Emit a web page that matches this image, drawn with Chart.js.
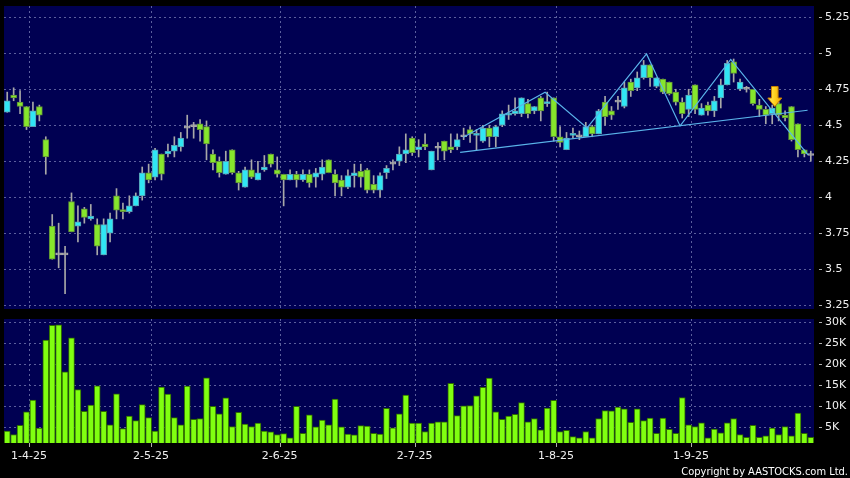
<!DOCTYPE html>
<html>
<head>
<meta charset="utf-8">
<script src="https://cdn.jsdelivr.net/npm/chart.js@4.4.1/dist/chart.umd.min.js"></script>
<style>
  html, body { margin: 0; padding: 0; background: #000; }
  #wrap { position: relative; width: 850px; height: 478px; background: #000; overflow: hidden; }
  #price { position: absolute; left: 0; top: 0; }
  #volume { position: absolute; left: 0; top: 312px; }
  #copy { position: absolute; right: 2px; top: 465px; color: #fff; font: 11px "DejaVu Sans Condensed", "Liberation Sans", sans-serif; }
</style>
</head>
<body>
<div id="wrap">
  <canvas id="price" width="850" height="312"></canvas>
  <canvas id="volume" width="850" height="166"></canvas>
  <div id="copy">Copyright by AASTOCKS.com Ltd.</div>
</div>
<script>
// daily candles
const opens = [4.59,4.71,4.66,4.63,4.49,4.63,4.40,3.80,3.60,3.60, 3.97,3.80,3.92,3.85,3.81,3.60,3.75,4.01,3.91,3.90,
  3.94,4.01,4.17,4.14,4.30,4.30,4.32,4.35,4.48,4.49, 4.51,4.49,4.30,4.25,4.16,4.33,4.17,4.07,4.19,4.12,
  4.19,4.30,4.19,4.16,4.12,4.16,4.12,4.16,4.14,4.16, 4.26,4.16,4.12,4.07,4.15,4.18,4.19,4.09,4.05,4.17,
  4.23,4.25,4.30,4.41,4.33,4.37,4.19,4.34,4.39,4.35, 4.35,4.42,4.47,4.43,4.39,4.48,4.42,4.50,4.57,4.58,
  4.58,4.65,4.60,4.69,4.65,4.69,4.42,4.33,4.43,4.42, 4.42,4.49,4.44,4.66,4.60,4.66,4.63,4.80,4.76,4.83,
  4.92,4.77,4.82,4.80,4.73,4.66,4.61,4.78,4.57,4.64, 4.60,4.69,4.78,4.94,4.75,4.75,4.75,4.64,4.61,4.58,
  4.65,4.57,4.63,4.51,4.33,4.29];
const highs = [4.73,4.76,4.74,4.63,4.66,4.64,4.42,3.88,3.82,3.66, 4.03,3.94,3.93,3.95,3.85,3.85,3.89,4.06,3.96,4.01,
  4.03,4.21,4.23,4.34,4.30,4.37,4.42,4.45,4.57,4.52, 4.54,4.53,4.33,4.28,4.32,4.33,4.18,4.21,4.26,4.25,
  4.29,4.30,4.28,4.16,4.19,4.18,4.19,4.19,4.20,4.26, 4.26,4.19,4.15,4.19,4.23,4.23,4.20,4.15,4.17,4.22,
  4.26,4.35,4.44,4.42,4.40,4.44,4.32,4.38,4.39,4.44, 4.44,4.48,4.49,4.47,4.50,4.50,4.50,4.60,4.64,4.69,
  4.69,4.68,4.63,4.70,4.73,4.69,4.49,4.45,4.48,4.46, 4.52,4.50,4.61,4.70,4.63,4.70,4.80,4.82,4.87,4.95,
  4.92,4.83,4.82,4.80,4.75,4.69,4.75,4.78,4.65,4.66, 4.70,4.82,4.95,4.96,4.82,4.77,4.75,4.68,4.63,4.64,
  4.66,4.60,4.63,4.51,4.33,4.32];
const lows = [4.59,4.67,4.58,4.47,4.49,4.53,4.16,3.57,3.51,3.33, 3.76,3.69,3.82,3.84,3.60,3.60,3.69,3.85,3.85,3.89,
  3.94,3.98,4.10,4.12,4.12,4.28,4.28,4.32,4.41,4.41, 4.39,4.26,4.19,4.14,4.16,4.16,4.05,4.07,4.13,4.12,
  4.18,4.21,4.14,3.94,4.12,4.07,4.11,4.07,4.07,4.12, 4.17,4.01,4.01,4.06,4.07,4.07,4.03,4.03,4.00,4.13,
  4.19,4.22,4.24,4.29,4.28,4.33,4.19,4.26,4.26,4.31, 4.33,4.40,4.38,4.33,4.38,4.35,4.35,4.49,4.54,4.57,
  4.56,4.55,4.58,4.53,4.63,4.39,4.35,4.33,4.41,4.40, 4.42,4.42,4.44,4.50,4.54,4.61,4.62,4.70,4.74,4.82,
  4.77,4.76,4.72,4.71,4.64,4.55,4.56,4.58,4.57,4.57, 4.56,4.62,4.78,4.80,4.74,4.73,4.64,4.56,4.51,4.51,
  4.53,4.53,4.39,4.28,4.28,4.25];
const closes = [4.67,4.69,4.63,4.49,4.60,4.57,4.28,3.57,3.60,3.60, 3.76,3.83,3.86,3.87,3.66,3.81,3.85,3.91,3.90,3.94,
  4.01,4.17,4.12,4.33,4.16,4.32,4.36,4.41,4.48,4.49, 4.47,4.37,4.24,4.17,4.25,4.17,4.10,4.19,4.14,4.17,
  4.21,4.23,4.16,4.12,4.16,4.12,4.16,4.10,4.17,4.21, 4.17,4.10,4.07,4.15,4.17,4.14,4.05,4.05,4.15,4.20,
  4.23,4.30,4.33,4.31,4.35,4.35,4.32,4.34,4.32,4.33, 4.40,4.42,4.44,4.44,4.48,4.42,4.49,4.58,4.58,4.60,
  4.69,4.58,4.63,4.60,4.66,4.42,4.38,4.41,4.44,4.42, 4.49,4.44,4.60,4.56,4.57,4.66,4.76,4.74,4.83,4.92,
  4.83,4.83,4.73,4.72,4.66,4.58,4.71,4.61,4.62,4.60, 4.67,4.78,4.93,4.86,4.80,4.75,4.65,4.61,4.57,4.62,
  4.57,4.55,4.40,4.33,4.30,4.29];
// volume in thousands of shares
const volumes = [4.1,3.3,5.5,8.7,11.5,4.8,25.8,29.3,29.4,18.2, 26.3,14.0,8.8,10.3,14.9,8.8,5.6,13.0,4.7,7.7,
  6.6,10.4,7.3,4.1,14.6,12.9,7.3,5.6,14.8,6.9, 7.1,16.8,10.0,8.2,12.0,5.2,8.6,5.8,5.2,6.0,
  4.1,3.9,3.3,3.5,2.5,10.0,3.6,8.0,5.1,6.7, 5.6,11.7,5.1,3.4,3.2,5.4,5.3,3.6,3.4,9.5,
  4.9,8.2,12.7,6.0,6.0,4.0,6.0,6.3,6.3,15.5, 7.8,10.1,10.2,12.5,14.5,16.7,8.7,6.9,7.7,8.1,
  10.9,6.3,7.1,4.4,9.6,11.4,4.0,4.3,2.8,2.5, 4.0,2.5,7.1,9.0,8.9,9.8,9.4,6.2,9.4,6.6,
  7.2,3.6,7.2,4.5,3.6,12.1,5.6,5.2,6.1,2.5, 4.6,3.7,6.1,7.1,3.3,2.6,5.5,2.6,3.0,4.8,
  3.3,5.2,3.0,8.4,3.6,2.6];

// month ticks: bar index of the first trading day and its label
const tickIndex = [4, 23, 43, 64, 86, 107];
const tickText = ["1-4-25", "2-5-25", "2-6-25", "2-7-25", "1-8-25", "1-9-25"];

// drawn pattern lines (bar index, price)
const zigzagX = [70.96, 83.67, 90.2, 99.45, 104.67, 112.55, 124.57];
const zigzagY = [4.417, 4.729, 4.481, 4.995, 4.495, 4.957, 4.294];
const necklineX = [70.45, 124.5];
const necklineY = [4.312, 4.604];

// signal arrow
const arrowIndex = [119.4];
const arrowPrice = [4.63];

const NAVY = "#000052";
const GRID = "#5b5f9c";
const UP = "#30e6f4";
const UP_EDGE = "#5a9fb4";
const DOWN = "#86e62c";
const DOWN_EDGE = "#5f8f38";
const DOJI = "#a8a8a8";
const WICK = "#a8a8a8";
const LINE = "#5ab4ea";
const FONT = { family: "DejaVu Sans", size: 11 };

const count = opens.length;
const categories = Array.from({ length: count }, (_, index) => index);

function candleColor(index, up, down) {
  if (closes[index] > opens[index]) return up;
  if (closes[index] < opens[index]) return down;
  return DOJI;
}

function monthGridColor(context) {
  return tickIndex.includes(context.index) ? GRID : "rgba(0,0,0,0)";
}

function noScalePadding(scale) {
  scale.paddingTop = 0;
  scale.paddingBottom = 0;
  scale.paddingLeft = 0;
  scale.paddingRight = 0;
}

const panelBackground = {
  id: "panelBackground",
  beforeDraw(chart) {
    const { ctx, chartArea } = chart;
    ctx.save();
    ctx.fillStyle = NAVY;
    ctx.fillRect(chartArea.left, chartArea.top, chartArea.right - chartArea.left, chartArea.bottom - chartArea.top);
    ctx.restore();
  },
};

const signalArrow = {
  id: "signalArrow",
  afterDatasetsDraw(chart) {
    const { ctx, scales } = chart;
    arrowIndex.forEach((value, k) => {
      const x = scales.x2.getPixelForValue(value);
      const tip = scales.y.getPixelForValue(arrowPrice[k]);
      const gradient = ctx.createLinearGradient(x - 7, 0, x + 7, 0);
      gradient.addColorStop(0, "#ffec6a");
      gradient.addColorStop(0.5, "#ffd21e");
      gradient.addColorStop(1, "#f0a000");
      ctx.save();
      ctx.beginPath();
      ctx.moveTo(x - 3.3, tip - 20);
      ctx.lineTo(x + 3.3, tip - 20);
      ctx.lineTo(x + 3.3, tip - 8.5);
      ctx.lineTo(x + 7, tip - 8.5);
      ctx.lineTo(x, tip);
      ctx.lineTo(x - 7, tip - 8.5);
      ctx.lineTo(x - 3.3, tip - 8.5);
      ctx.closePath();
      ctx.fillStyle = gradient;
      ctx.fill();
      ctx.strokeStyle = "#c98200";
      ctx.lineWidth = 1;
      ctx.stroke();
      ctx.restore();
    });
  },
};

const rightAxis = {
  position: "right",
  grid: {
    color: GRID,
    tickLength: 8,
    tickColor: "#b0b0b0",
    tickBorderDash: [0, 5, 3, 40],
  },
  border: { display: false, dash: [2, 3] },
  afterFit(scale) {
    scale.width = 36;
    noScalePadding(scale);
  },
};

new Chart(document.getElementById("price"), {
  type: "bar",
  data: {
    labels: categories,
    datasets: [
      {
        type: "line",
        xAxisID: "x2",
        data: zigzagX.map((x, i) => ({ x, y: zigzagY[i] })),
        borderColor: LINE,
        borderWidth: 1.2,
        pointRadius: 0,
        order: 0,
      },
      {
        type: "line",
        xAxisID: "x2",
        data: necklineX.map((x, i) => ({ x, y: necklineY[i] })),
        borderColor: LINE,
        borderWidth: 1.2,
        pointRadius: 0,
        order: 0,
      },
      {
        data: opens.map((open, i) => [open, closes[i]]),
        backgroundColor: opens.map((_, i) => candleColor(i, UP, DOWN)),
        borderColor: opens.map((_, i) => candleColor(i, UP_EDGE, DOWN_EDGE)),
        borderWidth: 1,
        borderSkipped: false,
        barThickness: 6,
        minBarLength: 2,
        grouped: false,
        order: 1,
      },
      {
        data: lows.map((low, i) => [low, highs[i]]),
        backgroundColor: WICK,
        borderWidth: 0,
        barThickness: 1,
        grouped: false,
        order: 2,
      },
    ],
  },
  options: {
    responsive: false,
    animation: false,
    layout: { padding: { left: 4, top: 6, bottom: 3, right: 0 } },
    plugins: { legend: { display: false }, tooltip: { enabled: false } },
    scales: {
      x: {
        type: "category",
        offset: true,
        grid: { offset: true, color: monthGridColor, drawTicks: false },
        border: { display: false, dash: [2, 3] },
        ticks: { display: false },
        afterFit(scale) {
          scale.height = 0;
          noScalePadding(scale);
        },
      },
      x2: {
        type: "linear",
        display: false,
        offset: false,
        min: -0.5,
        max: count - 0.5,
        afterFit: noScalePadding,
      },
      y: {
        ...rightAxis,
        min: 3.224,
        max: 5.328,
        ticks: {
          stepSize: 0.25,
          includeBounds: false,
          color: "#f0f0f0",
          font: FONT,
          padding: 3,
          callback: (value) => String(Number(value.toFixed(2))),
        },
      },
    },
  },
  plugins: [panelBackground, signalArrow],
});

new Chart(document.getElementById("volume"), {
  type: "bar",
  data: {
    labels: categories,
    datasets: [
      {
        data: volumes,
        backgroundColor: "#80ff10",
        borderColor: "#2e6a00",
        borderWidth: 1,
        barThickness: 6,
      },
    ],
  },
  options: {
    responsive: false,
    animation: false,
    layout: { padding: { left: 4, top: 7, bottom: 0, right: 0 } },
    plugins: { legend: { display: false }, tooltip: { enabled: false } },
    scales: {
      x: {
        type: "category",
        offset: true,
        grid: {
          offset: true,
          color: monthGridColor,
          tickColor: (context) => (tickIndex.includes(context.index) ? "#b0b0b0" : "rgba(0,0,0,0)"),
          tickLength: 4,
        },
        border: { display: false, dash: [2, 3] },
        ticks: {
          autoSkip: false,
          maxRotation: 0,
          color: "#f0f0f0",
          font: FONT,
          padding: 3,
          labelOffset: -4,
          callback: (value, index) => {
            const k = tickIndex.indexOf(index);
            return k === -1 ? "" : tickText[k];
          },
        },
        afterFit(scale) {
          scale.height = 35;
          noScalePadding(scale);
        },
      },
      y: {
        ...rightAxis,
        min: 1.27,
        max: 30.79,
        ticks: {
          stepSize: 5,
          includeBounds: false,
          color: "#f0f0f0",
          font: FONT,
          padding: 3,
          callback: (value) => value + "K",
        },
      },
    },
  },
  plugins: [panelBackground],
});
</script>
</body>
</html>
